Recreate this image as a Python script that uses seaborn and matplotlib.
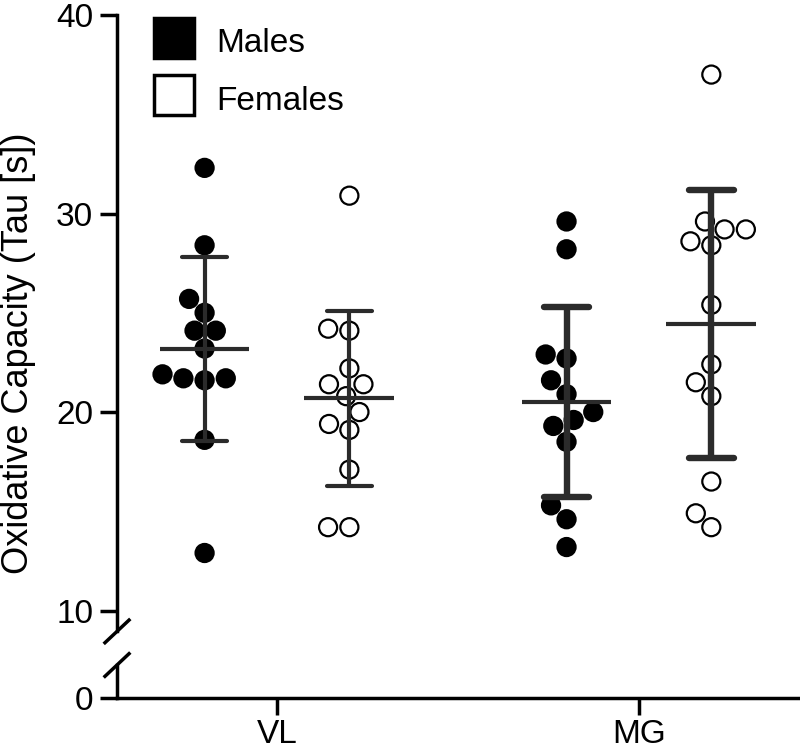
import numpy as np
import pandas as pd
import matplotlib
matplotlib.use("Agg")
import matplotlib.pyplot as plt
from matplotlib.lines import Line2D
import seaborn as sns

OUT_PATH = "out.png"

MUSCLES = ["VL", "MG"]
SEXES = ["Males", "Females"]

# Tau [s] per subject
VL_MALES = [32.3, 28.4, 25.7, 25.0, 24.1, 24.1, 23.2, 21.9, 21.7, 21.7, 21.6, 18.6, 12.9]
VL_FEMALES = [30.9, 24.2, 24.1, 22.2, 21.4, 21.4, 20.8, 20.0, 19.4, 19.1, 17.1, 14.2, 14.2]
MG_MALES = [29.6, 28.2, 22.9, 22.7, 21.6, 20.9, 20.0, 19.6, 19.3, 18.5, 15.3, 14.6, 13.2]
MG_FEMALES = [37.0, 29.6, 29.2, 29.2, 28.6, 28.4, 25.4, 22.4, 21.5, 20.8, 16.5, 14.9, 14.2]

Y_TICKS_TOP = [10, 20, 30, 40]
Y_TICKS_BOTTOM = [0]

rows = []
for muscle, males, females in zip(MUSCLES, [VL_MALES, MG_MALES], [VL_FEMALES, MG_FEMALES]):
    rows += [(muscle, "Males", v) for v in males]
    rows += [(muscle, "Females", v) for v in females]
df = pd.DataFrame(rows, columns=["muscle", "sex", "tau"])
stats = df.groupby(["muscle", "sex"])["tau"].agg(["mean", "std"])

sns.set_style("ticks", {"axes.edgecolor": "black", "xtick.color": "black",
                        "ytick.color": "black", "text.color": "black",
                        "axes.labelcolor": "black"})
plt.rcParams["font.family"] = ["Liberation Sans", "DejaVu Sans"]

EB_COLOR = "#2b2b2b"
BAR_LW = {"VL": 3.0, "MG": 4.6}
SPINE_LW = 2.5
DODGE = 0.2

fig = plt.figure(figsize=(8, 7.55), dpi=100)
ax = fig.add_axes([0.14625, 0.1637, 0.85375, 0.8164])
axb = fig.add_axes([0.14625, 0.0751, 0.85375, 0.0441])

sns.swarmplot(data=df, x="muscle", y="tau", hue="sex", order=MUSCLES,
              hue_order=SEXES, palette={"Males": "black", "Females": "white"},
              dodge=True, size=13, edgecolor="black", linewidth=1.6,
              legend=False, ax=ax, zorder=2)

# mean +/- SD
for i, m in enumerate(MUSCLES):
    for j, s in enumerate(SEXES):
        x = i + (j - 0.5) * 2 * DODGE
        mu, sd = stats.loc[(m, s), "mean"], stats.loc[(m, s), "std"]
        lw = BAR_LW[m]
        ax.vlines(x, mu - sd, mu + sd, color=EB_COLOR, lw=lw, zorder=3)
        ax.hlines([mu - sd, mu + sd], x - 0.062, x + 0.062, color=EB_COLOR,
                  lw=lw, capstyle="round", zorder=3)
        ax.hlines(mu, x - 0.124, x + 0.124, color=EB_COLOR, lw=3.0, zorder=3)

xlim = (-0.442, 1.445)
ax.set_xlim(xlim)
ax.set_ylim(8.95, 40)
ax.set_yticks(Y_TICKS_TOP)
ax.set_xlabel("")
ax.set_ylabel("Oxidative Capacity (Tau [s])", fontsize=26)
ax.yaxis.set_label_coords(-0.119, 0.451)
for side in ["top", "right", "bottom"]:
    ax.spines[side].set_visible(False)
ax.spines["left"].set_linewidth(SPINE_LW)
ax.tick_params(axis="x", bottom=False, labelbottom=False)
ax.tick_params(axis="y", length=12.2, width=SPINE_LW, labelsize=24, pad=5)

axb.set_xlim(xlim)
axb.set_ylim(0, 1.676)
axb.set_yticks(Y_TICKS_BOTTOM)
axb.set_xticks(range(len(MUSCLES)), MUSCLES)
for side in ["top", "right"]:
    axb.spines[side].set_visible(False)
for side in ["left", "bottom"]:
    axb.spines[side].set_linewidth(SPINE_LW)
axb.tick_params(axis="y", length=12.2, width=SPINE_LW, labelsize=24, pad=5)
axb.tick_params(axis="x", length=12.5, width=SPINE_LW, labelsize=24, pad=2.5)
axb.patch.set_alpha(0)

# break marks on the y axis
kw = dict(color="black", lw=SPINE_LW, clip_on=False, solid_capstyle="butt")
dx = 13.3 / 683
dy = 12.5 / 616.4
ax.plot([-dx, dx], [-dy, dy], transform=ax.transAxes, **kw)
dyb = 12.5 / 33.3
axb.plot([-dx, dx], [1 - dyb, 1 + dyb], transform=axb.transAxes, **kw)

handles = [
    Line2D([], [], ls="none", marker="s", markersize=29, mfc="black", mec="black", mew=2.5),
    Line2D([], [], ls="none", marker="s", markersize=29, mfc="white", mec="black", mew=2.5),
]
ax.legend(handles, SEXES, loc="upper left", bbox_to_anchor=(0.189, 0.970),
          bbox_transform=fig.transFigure, frameon=False, fontsize=24,
          handlelength=1.35, handleheight=1.35, handletextpad=0.6,
          labelspacing=0.6, borderpad=0, borderaxespad=0)

fig.savefig(OUT_PATH, dpi=100)
plt.close(fig)
